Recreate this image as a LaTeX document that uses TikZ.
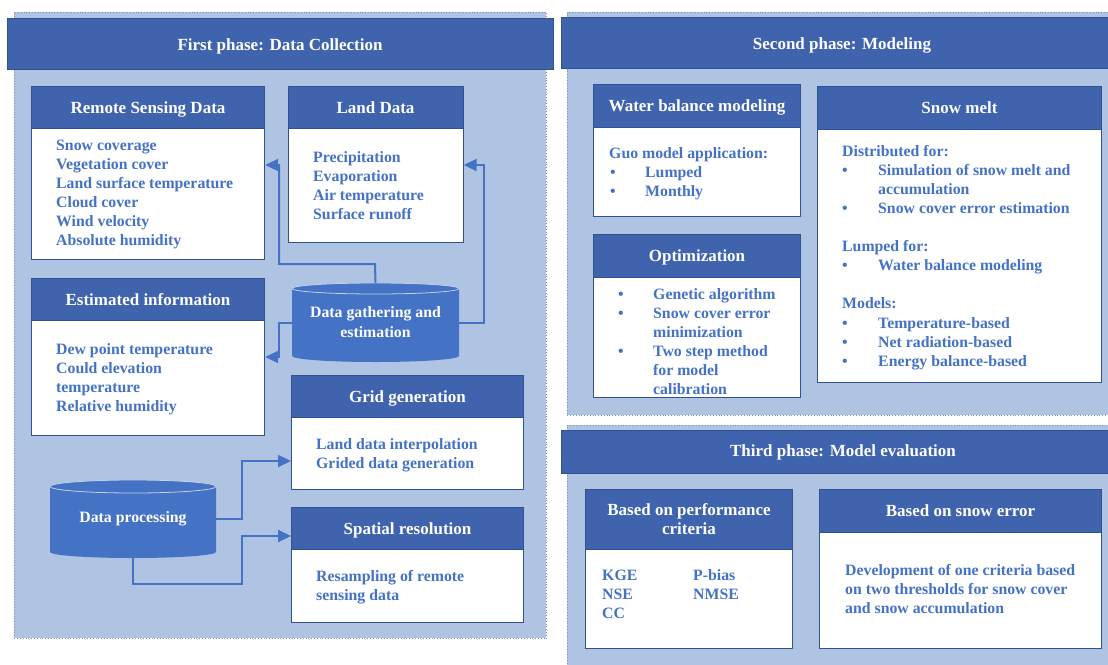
\documentclass[tikz,border=0pt]{standalone}
\usepackage{fontspec}
\setmainfont{Liberation Serif}
\usetikzlibrary{arrows.meta,calc}
\definecolor{panel}{HTML}{AFC3E3}
\definecolor{hdr}{HTML}{3F63AD}
\definecolor{hdrline}{HTML}{2F528F}
\definecolor{txt}{HTML}{4472C4}
\definecolor{cylf}{HTML}{4472C4}
\definecolor{cyle}{HTML}{C5D0E6}
\definecolor{dotc}{HTML}{7F92B8}
\begin{document}
\begin{tikzpicture}[x=1pt,y=-1pt,
  bf/.style={font=\bfseries\fontsize{15.8}{19}\selectfont},
  hf/.style={font=\bfseries\fontsize{17}{19}\selectfont},
  panelbox/.style={fill=panel, draw=dotc, dotted, line width=0.8pt, inner sep=0pt, anchor=north west},
  phasebar/.style={fill=hdr, draw=hdrline, line width=1pt, inner sep=0pt, anchor=north west},
  phasetitle/.style={hf, text=white, inner sep=0pt, text depth=0pt},
  boxhead/.style={fill=hdr, draw=hdrline, line width=1pt, inner sep=0pt, anchor=north west, hf, text=white, align=center, text depth=0pt},
  boxbody/.style={fill=white, draw=hdrline, line width=1.2pt, inner sep=0pt, anchor=north west},
  item/.style={bf, text=txt, inner sep=0pt, anchor=base west},
  bul/.style={bf, text=txt, inner sep=0pt, anchor=base},
  conn/.style={draw=txt, line width=2pt, -{Triangle[length=13pt,width=12pt]}},
  dbcyl/.style n args={3}{minimum width=#1pt, minimum height=#2pt, inner sep=0pt, fill=panel,
    text=white, align=center, font=\bfseries\fontsize{15.8}{20}\selectfont,
    path picture={
      \fill[cylf] ($(path picture bounding box.north west)+(0,#3)$)
        -- ($(path picture bounding box.south west)+(0,-6)$)
        arc[start angle=180, end angle=360, x radius={#1pt/2}, y radius=6pt]
        -- ($(path picture bounding box.north east)+(0,#3)$)
        arc[start angle=0, end angle=180, x radius={#1pt/2}, y radius=#3pt] -- cycle;
      \draw[cyle, line width=0.8pt] ($(path picture bounding box.north west)+(0,#3)$)
        arc[start angle=180, end angle=540, x radius={#1pt/2}, y radius=#3pt];
    }}
]
\useasboundingbox (0,0) rectangle (1108,664);
\clip (0,0) rectangle (1108,664);

% ---------- panels ----------
\node[panelbox, minimum width=532pt, minimum height=626pt] (p1) at (14,12) {};
\node[panelbox, minimum width=560pt, minimum height=403pt] (p2) at (567,12) {};
\node[panelbox, minimum width=560pt, minimum height=250pt] (p3) at (567,425) {};

\node[phasebar, minimum width=546pt, minimum height=51pt] (h1) at (7,18) {};
\node[phasebar, minimum width=564pt, minimum height=51pt] (h2) at (561,17) {};
\node[phasebar, minimum width=564pt, minimum height=43pt] (h3) at (561,430) {};
\node[phasetitle] (t1) at (280,45) {First phase: Data Collection};
\node[phasetitle] (t2) at (842,44) {Second phase: Modeling};
\node[phasetitle] (t3) at (843,451) {Third phase: Model evaluation};

% ---------- first phase ----------
\node[boxhead, minimum width=233pt, minimum height=42pt] (rsH) at (31,86) {Remote Sensing Data};
\node[boxbody, minimum width=233pt, minimum height=131pt] (rsB) at (31,128) {};
\foreach \t [count=\i] in {Snow coverage, Vegetation cover, Land surface temperature, Cloud cover, Wind velocity, Absolute humidity}
  \node[item] (rs\i) at (56,{131+19*\i}) {\t};

\node[boxhead, minimum width=175pt, minimum height=42pt] (ldH) at (287.5,86) {Land Data};
\node[boxbody, minimum width=175pt, minimum height=114pt] (ldB) at (287.5,128) {};
\foreach \t [count=\i] in {Precipitation, Evaporation, Air temperature, Surface runoff}
  \node[item] (ld\i) at (313,{143+19*\i}) {\t};

\node[boxhead, minimum width=233pt, minimum height=42pt] (eiH) at (31,278) {Estimated information};
\node[boxbody, minimum width=233pt, minimum height=115pt] (eiB) at (31,320) {};
\foreach \t [count=\i] in {Dew point temperature, Could elevation, temperature, Relative humidity}
  \node[item] (ei\i) at (56,{335+19*\i}) {\t};

\node[boxhead, minimum width=232pt, minimum height=42pt] (ggH) at (291,375) {Grid generation};
\node[boxbody, minimum width=232pt, minimum height=72pt] (ggB) at (291,417) {};
\foreach \t [count=\i] in {Land data interpolation, Grided data generation}
  \node[item] (gg\i) at (316,{430+19*\i}) {\t};

\node[boxhead, minimum width=232pt, minimum height=42pt] (srH) at (291,507) {Spatial resolution};
\node[boxbody, minimum width=232pt, minimum height=73pt] (srB) at (291,549) {};
\foreach \t [count=\i] in {Resampling of remote, sensing data}
  \node[item] (sr\i) at (316,{562+19*\i}) {\t};

\node[dbcyl={167}{79}{5.5}] (dg) at (375.5,322.5) {Data gathering and\\estimation};
\node[dbcyl={166}{78}{6.5}] (dp) at (133,519) {Data processing};

\draw[conn] (dg.north) -- (375,264) -- (279,264) -- (279,165) -- (rsB.east |- 0,165);
\draw[conn] (dg.east) -- (484,322.5) -- (484,165) -- (ldB.east |- 0,165);
\draw[conn] (dg.west) -- (279,322.5) -- (279,357) -- (eiB.east |- 0,357);
\draw[conn] (dp.east) -- (242,519) -- (242,461) -- (ggB.west |- 0,461);
\draw[conn] (dp.south) -- (133,584) -- (242,584) -- (242,536) -- (srH.west |- 0,536);

% ---------- second phase ----------
\node[boxhead, minimum width=207pt, minimum height=43pt] (wbH) at (593,84) {Water balance modeling};
\node[boxbody, minimum width=207pt, minimum height=89pt] (wbB) at (593,127) {};
\node[item] (wb0) at (609,158) {Guo model application:};
\foreach \t [count=\i] in {Lumped, Monthly}{
  \node[bul] (wbb\i) at (613,{158+19*\i}) {•};
  \node[item] (wb\i) at (645,{158+19*\i}) {\t};}

\node[boxhead, minimum width=207pt, minimum height=43pt] (opH) at (593,234) {Optimization};
\node[boxbody, minimum width=207pt, minimum height=120pt] (opB) at (593,277) {};
\node[bul] (opb1) at (621,299) {•};
\node[bul] (opb2) at (621,318) {•};
\node[bul] (opb3) at (621,356) {•};
\foreach \t [count=\i] in {Genetic algorithm, Snow cover error, minimization, Two step method, for model, calibration}
  \node[item] (op\i) at (653,{280+19*\i}) {\t};

\node[boxhead, minimum width=284pt, minimum height=43pt] (smH) at (817,86) {Snow melt};
\node[boxbody, minimum width=284pt, minimum height=253pt] (smB) at (817,129) {};
\node[item] (sm0) at (842,156) {Distributed for:};
\node[bul] (smb1) at (845,175) {•};
\node[item] (sm1) at (878,175) {Simulation of snow melt and};
\node[item] (sm2) at (878,194) {accumulation};
\node[bul] (smb2) at (845,213) {•};
\node[item] (sm3) at (878,213) {Snow cover error estimation};
\node[item] (sm4) at (842,251) {Lumped for:};
\node[bul] (smb3) at (845,270) {•};
\node[item] (sm5) at (878,270) {Water balance modeling};
\node[item] (sm6) at (842,308) {Models:};
\foreach \t [count=\i] in {Temperature-based, Net radiation-based, Energy balance-based}{
  \node[bul] (smc\i) at (845,{309+19*\i}) {•};
  \node[item] (smm\i) at (878,{309+19*\i}) {\t};}

% ---------- third phase ----------
\node[boxhead, minimum width=207pt, minimum height=60pt] (pcH) at (585,489) {Based on performance\\criteria};
\node[boxbody, minimum width=207pt, minimum height=99pt] (pcB) at (585,549) {};
\node[item] (pc1) at (602,580) {KGE};
\node[item] (pc2) at (602,599) {NSE};
\node[item] (pc3) at (602,618) {CC};
\node[item] (pc4) at (693,580) {P-bias};
\node[item] (pc5) at (693,599) {NMSE};

\node[boxhead, minimum width=282pt, minimum height=43pt] (seH) at (819,489) {Based on snow error};
\node[boxbody, minimum width=282pt, minimum height=116pt] (seB) at (819,532) {};
\foreach \t [count=\i] in {Development of one criteria based, on two thresholds for snow cover, and snow accumulation}
  \node[item] (se\i) at (845,{556+19*\i}) {\t};
\end{tikzpicture}
\end{document}
